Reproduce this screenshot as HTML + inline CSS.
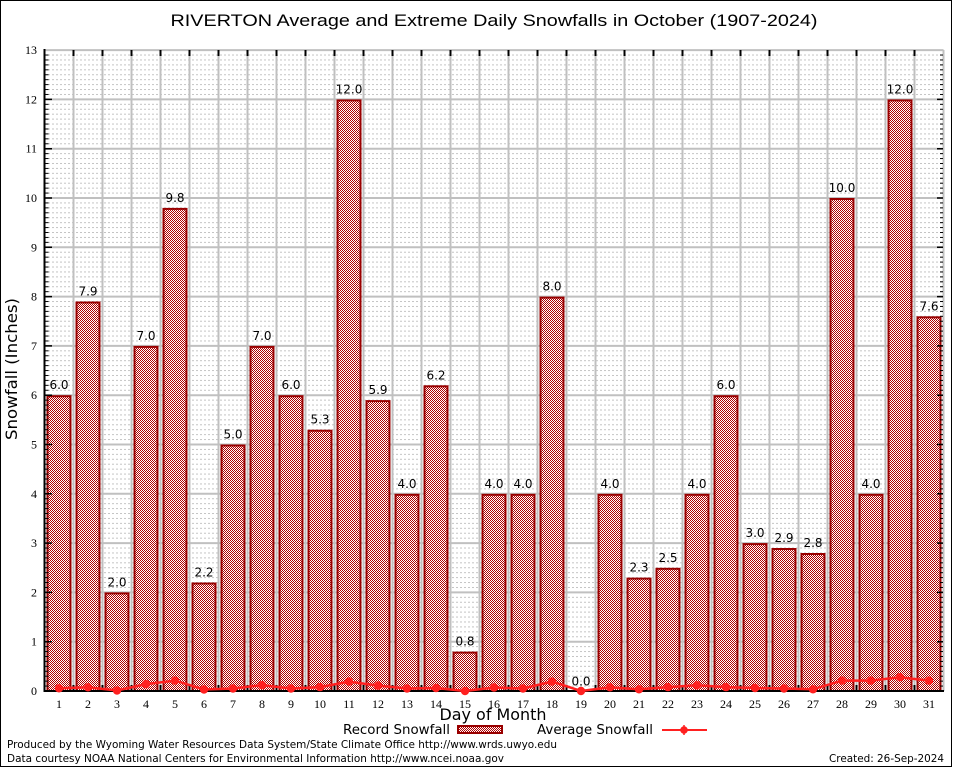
<!DOCTYPE html>
<html>
<head>
<meta charset="utf-8">
<style>
html,body{margin:0;padding:0;background:#fff;}
svg{display:block;}
.tl{font-family:"Liberation Serif",serif;font-size:12px;fill:#000;}
.vl{font-family:"DejaVu Sans","Liberation Sans",sans-serif;font-size:12px;fill:#000;text-anchor:middle;}
.dj{font-family:"DejaVu Sans","Liberation Sans",sans-serif;fill:#000;}
</style>
</head>
<body>
<svg width="954" height="768" viewBox="0 0 954 768" xmlns="http://www.w3.org/2000/svg">
<defs>
<pattern id="chk" patternUnits="userSpaceOnUse" x="0" y="0" width="2" height="2">
<rect x="0" y="0" width="2" height="2" fill="#ffffff" shape-rendering="crispEdges"/>
<rect x="0" y="0" width="1" height="1" fill="#b00000" shape-rendering="crispEdges"/>
<rect x="1" y="1" width="1" height="1" fill="#b00000" shape-rendering="crispEdges"/>
</pattern>
<pattern id="minor" patternUnits="userSpaceOnUse" x="0" y="690.5" width="4" height="4.93">
<rect x="0" y="0" width="2" height="1" fill="#c4c4c4"/>
</pattern>
<pattern id="mtick" patternUnits="userSpaceOnUse" x="0" y="690.5" width="10" height="4.93">
<rect x="0" y="0" width="10" height="1" fill="#000"/>
</pattern>
</defs>
<rect x="0" y="0" width="954" height="768" fill="#fff"/>
<rect x="0.5" y="0.5" width="951" height="766" fill="none" stroke="#000" stroke-width="1"/>

<text x="494" y="26" font-family="Liberation Sans, sans-serif" font-size="17" text-anchor="middle" textLength="647" lengthAdjust="spacingAndGlyphs">RIVERTON Average and Extreme Daily Snowfalls in October (1907-2024)</text>

<!-- minor dashed grid -->
<rect x="45.5" y="50" width="897" height="641" fill="url(#minor)"/>
<!-- major horizontal grid -->
<path d="M44.5 641.7H943.5M44.5 592.4H943.5M44.5 543.1H943.5M44.5 493.8H943.5M44.5 444.5H943.5M44.5 395.2H943.5M44.5 345.9H943.5M44.5 296.6H943.5M44.5 247.3H943.5M44.5 198H943.5M44.5 148.7H943.5M44.5 99.4H943.5M44.5 50.1H943.5" stroke="#c0c0c0" stroke-width="2" fill="none"/>
<!-- vertical grid -->
<path d="M73.5 50V691M102.5 50V691M131.5 50V691M160.5 50V691M189.5 50V691M218.5 50V691M247.5 50V691M276.5 50V691M305.5 50V691M334.5 50V691M363.5 50V691M392.5 50V691M421.5 50V691M450.5 50V691M479.5 50V691M508.5 50V691M537.5 50V691M566.5 50V691M595.5 50V691M624.5 50V691M653.5 50V691M682.5 50V691M711.5 50V691M740.5 50V691M769.5 50V691M798.5 50V691M827.5 50V691M856.5 50V691M885.5 50V691M914.5 50V691M943.5 50V691" stroke="#c0c0c0" stroke-width="2" fill="none"/>

<!-- bars -->
<g fill="url(#chk)" stroke="#990000" stroke-width="2">
<rect x="47.5" y="396.2" width="23" height="294.8"/>
<rect x="76.5" y="302.5" width="23" height="388.5"/>
<rect x="105.5" y="593.4" width="23" height="97.6"/>
<rect x="134.5" y="346.9" width="23" height="344.1"/>
<rect x="163.5" y="208.9" width="23" height="482.1"/>
<rect x="192.5" y="583.5" width="23" height="107.5"/>
<rect x="221.5" y="445.5" width="23" height="245.5"/>
<rect x="250.5" y="346.9" width="23" height="344.1"/>
<rect x="279.5" y="396.2" width="23" height="294.8"/>
<rect x="308.5" y="430.7" width="23" height="260.3"/>
<rect x="337.5" y="100.4" width="23" height="590.6"/>
<rect x="366.5" y="401.1" width="23" height="289.9"/>
<rect x="395.5" y="494.8" width="23" height="196.2"/>
<rect x="424.5" y="386.3" width="23" height="304.7"/>
<rect x="453.5" y="652.6" width="23" height="38.4"/>
<rect x="482.5" y="494.8" width="23" height="196.2"/>
<rect x="511.5" y="494.8" width="23" height="196.2"/>
<rect x="540.5" y="297.6" width="23" height="393.4"/>
<rect x="598.5" y="494.8" width="23" height="196.2"/>
<rect x="627.5" y="578.6" width="23" height="112.4"/>
<rect x="656.5" y="568.8" width="23" height="122.2"/>
<rect x="685.5" y="494.8" width="23" height="196.2"/>
<rect x="714.5" y="396.2" width="23" height="294.8"/>
<rect x="743.5" y="544.1" width="23" height="146.9"/>
<rect x="772.5" y="549" width="23" height="142"/>
<rect x="801.5" y="554" width="23" height="137"/>
<rect x="830.5" y="199" width="23" height="492"/>
<rect x="859.5" y="494.8" width="23" height="196.2"/>
<rect x="888.5" y="100.4" width="23" height="590.6"/>
<rect x="917.5" y="317.3" width="23" height="373.7"/>
</g>

<!-- axes -->
<path d="M44.5 49V692" stroke="#000" stroke-width="2"/>
<path d="M43.5 691H944" stroke="#000" stroke-width="2"/>
<!-- minor ticks left/right -->
<rect x="45.5" y="51" width="3" height="640" fill="url(#mtick)"/>
<rect x="940" y="51" width="3" height="640" fill="url(#mtick)"/>
<!-- major ticks left/right -->
<path d="M44 641.7h8M44 592.4h8M44 543.1h8M44 493.8h8M44 444.5h8M44 395.2h8M44 345.9h8M44 296.6h8M44 247.3h8M44 198h8M44 148.7h8M44 99.4h8M937 641.7h6M937 592.4h6M937 543.1h6M937 493.8h6M937 444.5h6M937 395.2h6M937 345.9h6M937 296.6h6M937 247.3h6M937 198h6M937 148.7h6M937 99.4h6" stroke="#000" stroke-width="1.5"/>
<!-- top and bottom ticks -->
<path d="M73.5 50v6M102.5 50v6M131.5 50v6M160.5 50v6M189.5 50v6M218.5 50v6M247.5 50v6M276.5 50v6M305.5 50v6M334.5 50v6M363.5 50v6M392.5 50v6M421.5 50v6M450.5 50v6M479.5 50v6M508.5 50v6M537.5 50v6M566.5 50v6M595.5 50v6M624.5 50v6M653.5 50v6M682.5 50v6M711.5 50v6M740.5 50v6M769.5 50v6M798.5 50v6M827.5 50v6M856.5 50v6M885.5 50v6M914.5 50v6M73.5 691v-6M102.5 691v-6M131.5 691v-6M160.5 691v-6M189.5 691v-6M218.5 691v-6M247.5 691v-6M276.5 691v-6M305.5 691v-6M334.5 691v-6M363.5 691v-6M392.5 691v-6M421.5 691v-6M450.5 691v-6M479.5 691v-6M508.5 691v-6M537.5 691v-6M566.5 691v-6M595.5 691v-6M624.5 691v-6M653.5 691v-6M682.5 691v-6M711.5 691v-6M740.5 691v-6M769.5 691v-6M798.5 691v-6M827.5 691v-6M856.5 691v-6M885.5 691v-6M914.5 691v-6" stroke="#000" stroke-width="2"/>

<!-- average line -->
<polyline fill="none" stroke="#ff2020" stroke-width="2.5" points="59,688.3 88,687.3 117,690.5 146,684.1 175,680.6 204,689.5 233,688.5 262,685.1 291,688.5 320,687.1 349,681.6 378,685.6 407,688.5 436,688 465,691 494,687.5 523,688.5 552,681.6 581,691 610,687.3 639,689.3 668,687.1 697,685.3 726,687.1 755,688 784,688.5 813,689.3 842,680.6 871,680.6 900,677.2 929,680.6"/>
<g fill="#ff2020">
<circle cx="59" cy="688.3" r="4.2"/><circle cx="88" cy="687.3" r="4.2"/><circle cx="117" cy="690.5" r="4.2"/><circle cx="146" cy="684.1" r="4.2"/><circle cx="175" cy="680.6" r="4.2"/><circle cx="204" cy="689.5" r="4.2"/><circle cx="233" cy="688.5" r="4.2"/><circle cx="262" cy="685.1" r="4.2"/><circle cx="291" cy="688.5" r="4.2"/><circle cx="320" cy="687.1" r="4.2"/><circle cx="349" cy="681.6" r="4.2"/><circle cx="378" cy="685.6" r="4.2"/><circle cx="407" cy="688.5" r="4.2"/><circle cx="436" cy="688" r="4.2"/><circle cx="465" cy="691" r="4.2"/><circle cx="494" cy="687.5" r="4.2"/><circle cx="523" cy="688.5" r="4.2"/><circle cx="552" cy="681.6" r="4.2"/><circle cx="581" cy="691" r="4.2"/><circle cx="610" cy="687.3" r="4.2"/><circle cx="639" cy="689.3" r="4.2"/><circle cx="668" cy="687.1" r="4.2"/><circle cx="697" cy="685.3" r="4.2"/><circle cx="726" cy="687.1" r="4.2"/><circle cx="755" cy="688" r="4.2"/><circle cx="784" cy="688.5" r="4.2"/><circle cx="813" cy="689.3" r="4.2"/><circle cx="842" cy="680.6" r="4.2"/><circle cx="871" cy="680.6" r="4.2"/><circle cx="900" cy="677.2" r="4.2"/><circle cx="929" cy="680.6" r="4.2"/>
</g>

<!-- value labels -->
<text class="vl" x="59" y="389.2">6.0</text>
<text class="vl" x="88" y="295.5">7.9</text>
<text class="vl" x="117" y="586.4">2.0</text>
<text class="vl" x="146" y="339.9">7.0</text>
<text class="vl" x="175" y="201.9">9.8</text>
<text class="vl" x="204" y="576.5">2.2</text>
<text class="vl" x="233" y="438.5">5.0</text>
<text class="vl" x="262" y="339.9">7.0</text>
<text class="vl" x="291" y="389.2">6.0</text>
<text class="vl" x="320" y="423.7">5.3</text>
<text class="vl" x="349" y="93.4">12.0</text>
<text class="vl" x="378" y="394.1">5.9</text>
<text class="vl" x="407" y="487.8">4.0</text>
<text class="vl" x="436" y="379.3">6.2</text>
<text class="vl" x="465" y="645.6">0.8</text>
<text class="vl" x="494" y="487.8">4.0</text>
<text class="vl" x="523" y="487.8">4.0</text>
<text class="vl" x="552" y="290.6">8.0</text>
<text class="vl" x="581" y="685.5">0.0</text>
<text class="vl" x="610" y="487.8">4.0</text>
<text class="vl" x="639" y="571.6">2.3</text>
<text class="vl" x="668" y="561.8">2.5</text>
<text class="vl" x="697" y="487.8">4.0</text>
<text class="vl" x="726" y="389.2">6.0</text>
<text class="vl" x="755" y="537.1">3.0</text>
<text class="vl" x="784" y="542">2.9</text>
<text class="vl" x="813" y="547">2.8</text>
<text class="vl" x="842" y="192">10.0</text>
<text class="vl" x="871" y="487.8">4.0</text>
<text class="vl" x="900" y="93.4">12.0</text>
<text class="vl" x="929" y="310.3">7.6</text>

<!-- y tick labels -->
<g class="tl" text-anchor="end">
<text x="37" y="695">0</text>
<text x="37" y="645.7">1</text>
<text x="37" y="596.4">2</text>
<text x="37" y="547.1">3</text>
<text x="37" y="497.8">4</text>
<text x="37" y="448.5">5</text>
<text x="37" y="399.2">6</text>
<text x="37" y="349.9">7</text>
<text x="37" y="300.6">8</text>
<text x="37" y="251.3">9</text>
<text x="37" y="202">10</text>
<text x="37" y="152.7">11</text>
<text x="37" y="103.4">12</text>
<text x="37" y="54.1">13</text>
</g>
<!-- x tick labels -->
<g class="tl" text-anchor="middle">
<text x="59" y="708">1</text><text x="88" y="708">2</text><text x="117" y="708">3</text><text x="146" y="708">4</text><text x="175" y="708">5</text><text x="204" y="708">6</text><text x="233" y="708">7</text><text x="262" y="708">8</text><text x="291" y="708">9</text><text x="320" y="708">10</text><text x="349" y="708">11</text><text x="378" y="708">12</text><text x="407" y="708">13</text><text x="436" y="708">14</text><text x="465" y="708">15</text><text x="494" y="708">16</text><text x="523" y="708">17</text><text x="552" y="708">18</text><text x="581" y="708">19</text><text x="610" y="708">20</text><text x="639" y="708">21</text><text x="668" y="708">22</text><text x="697" y="708">23</text><text x="726" y="708">24</text><text x="755" y="708">25</text><text x="784" y="708">26</text><text x="813" y="708">27</text><text x="842" y="708">28</text><text x="871" y="708">29</text><text x="900" y="708">30</text><text x="929" y="708">31</text>
</g>

<!-- axis titles -->
<text class="dj" x="493" y="720" font-size="16" text-anchor="middle" textLength="107" lengthAdjust="spacingAndGlyphs">Day of Month</text>
<text class="dj" transform="translate(17,369) rotate(-90)" x="0" y="0" font-size="16" text-anchor="middle" textLength="142" lengthAdjust="spacingAndGlyphs">Snowfall (Inches)</text>

<!-- legend -->
<text class="dj" x="343" y="734" font-size="13" textLength="107" lengthAdjust="spacingAndGlyphs">Record Snowfall</text>
<rect x="458" y="726" width="44" height="7" fill="url(#chk)" stroke="#990000" stroke-width="2"/>
<text class="dj" x="537" y="734" font-size="13" textLength="116" lengthAdjust="spacingAndGlyphs">Average Snowfall</text>
<path d="M662 730H707" stroke="#ff2020" stroke-width="2"/>
<circle cx="684" cy="730" r="3.8" fill="#ff2020"/>
<path d="M684 725V735" stroke="#ff2020" stroke-width="1.5"/>

<!-- footer -->
<text class="dj" x="7" y="748" font-size="11" textLength="550" lengthAdjust="spacingAndGlyphs">Produced by the Wyoming Water Resources Data System/State Climate Office http://www.wrds.uwyo.edu</text>
<text class="dj" x="7" y="762" font-size="11" textLength="497" lengthAdjust="spacingAndGlyphs">Data courtesy NOAA National Centers for Environmental Information http://www.ncei.noaa.gov</text>
<text class="dj" x="944" y="762" font-size="11" text-anchor="end" textLength="115" lengthAdjust="spacingAndGlyphs">Created: 26-Sep-2024</text>
</svg>
</body>
</html>
